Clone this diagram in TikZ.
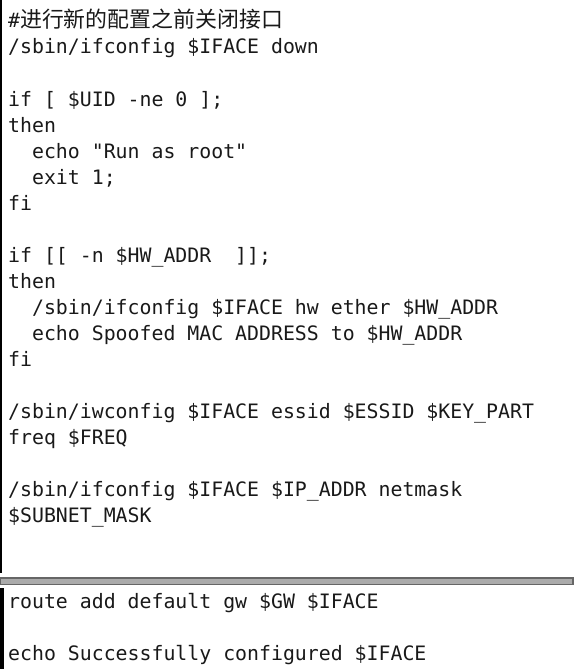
\documentclass[tikz,border=0pt]{standalone}
\usepackage{fontspec}
\setmonofont{DejaVu Sans Mono}
\newfontfamily\cjk{Noto Sans CJK SC}
\usetikzlibrary{positioning}

\definecolor{bargray}{HTML}{ABABAB}
\definecolor{bardark}{HTML}{666666}

\begin{document}
\begin{tikzpicture}[x=1pt, y=-1pt]
        \tikzstyle{code}=[anchor=base west, inner sep=0pt, text=black!90, font=\ttfamily\fontsize{19.85}{26}\selectfont];

        \useasboundingbox (0,0) rectangle (573,669);

        \node[code] (0) at (8, 28) {\#{\cjk\fontsize{21.9}{26}\selectfont 进行新的配置之前关闭接口}};
        \node[code] (1) at (8, 54) {/sbin/ifconfig \$IFACE down};

        \node[code] (2) at (8, 106) {if [ \$UID -ne 0 ];};
        \node[code] (3) at (8, 132) {then};
        \node[code] (4) at (31.9, 158) {echo "Run as root"};
        \node[code] (5) at (31.9, 184) {exit 1;};
        \node[code] (6) at (8, 210) {fi};

        \node[code] (7) at (8, 262) {if [[ -n \$HW\_ADDR ~]];};
        \node[code] (8) at (8, 288) {then};
        \node[code] (9) at (31.9, 314) {/sbin/ifconfig \$IFACE hw ether \$HW\_ADDR};
        \node[code] (10) at (31.9, 340) {echo Spoofed MAC ADDRESS to \$HW\_ADDR};
        \node[code] (11) at (8, 366) {fi};

        \node[code] (12) at (8, 418) {/sbin/iwconfig \$IFACE essid \$ESSID \$KEY\_PART};
        \node[code] (13) at (8, 444) {freq \$FREQ};

        \node[code] (14) at (8, 496) {/sbin/ifconfig \$IFACE \$IP\_ADDR netmask};
        \node[code] (15) at (8, 522) {\$SUBNET\_MASK};

        \node[code] (16) at (8, 608) {route add default gw \$GW \$IFACE};
        \node[code] (17) at (8, 660) {echo Successfully configured \$IFACE};

        % window edges and splitter
        \draw[line width=2pt, black] (1, 0) -- (1, 573);
        \draw[line width=1.5pt, draw=bardark, fill=bargray] (0, 578) rectangle (573, 584.5);
        \draw[line width=3.5pt, black] (1.75, 588) -- (1.75, 669);
\end{tikzpicture}
\end{document}
